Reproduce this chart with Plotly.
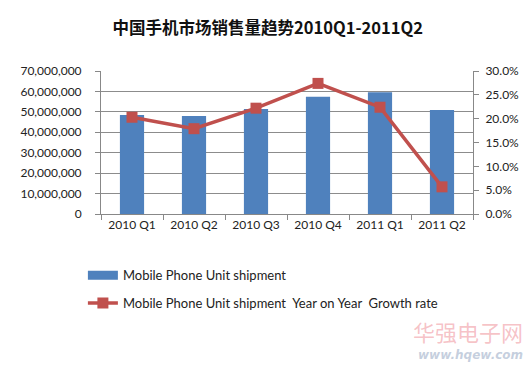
import plotly.graph_objects as go

categories = ["2010 Q1", "2010 Q2", "2010 Q3", "2010 Q4", "2011 Q1", "2011 Q2"]
shipments = [48500000, 48000000, 51400000, 57400000, 59600000, 50900000]
growth = [0.203, 0.179, 0.222, 0.274, 0.224, 0.057]
left_ticks = [0, 10000000, 20000000, 30000000, 40000000, 50000000, 60000000, 70000000]
right_ticks = [0, 0.05, 0.10, 0.15, 0.20, 0.25, 0.30]

FONT = "Lato, 'Open Sans', sans-serif"
BLUE = "#4F81BD"
RED = "#C0504D"

fig = go.Figure()
fig.add_trace(go.Bar(
    x=categories, y=shipments, name="Mobile Phone Unit shipment",
    marker=dict(color=BLUE, line=dict(width=0)),
    showlegend=False, yaxis="y"))
# legend key for the bar series (wide rectangle, as in the reference)
fig.add_trace(go.Scatter(
    x=[None], y=[None], mode="lines", name="Mobile Phone Unit shipment",
    line=dict(color=BLUE, width=9), legend="legend", yaxis="y"))
fig.add_trace(go.Scatter(
    x=categories, y=growth, mode="lines+markers",
    name="Mobile Phone Unit shipment  Year on Year  Growth rate",
    line=dict(color=RED, width=3.5),
    marker=dict(symbol="square", size=11, color=RED),
    legend="legend2", yaxis="y2"))

fig.update_layout(
    width=528, height=367,
    margin=dict(l=101, r=55, t=71, b=153, autoexpand=False),
    paper_bgcolor="white", plot_bgcolor="white",
    bargap=0.61,
    font=dict(family=FONT, size=12, color="#222"),
    title=dict(text="<b>中国手机市场销售量趋势2010Q1-2011Q2</b>",
               x=0.507, xanchor="center", y=0.922, yanchor="middle",
               font=dict(family="'Noto Sans CJK SC', sans-serif", size=16.5, color="#111")),
    xaxis=dict(showline=True, linecolor="#888", linewidth=1,
               ticks="outside", ticklen=5, tickcolor="#888",
               tickson="boundaries", showgrid=False,
               tickfont=dict(size=12, color="#222")),
    yaxis=dict(range=[0, 70000000], tickvals=left_ticks,
               ticktext=[f"{v:,}" for v in left_ticks],
               showline=True, linecolor="#888", ticks="outside", ticklen=5,
               tickcolor="#888", gridcolor="#8c8c8c", gridwidth=1,
               ticklabelstandoff=11,
               zeroline=False, tickfont=dict(size=12, color="#222")),
    yaxis2=dict(range=[0, 0.30], tickvals=right_ticks,
                ticktext=[f"{v*100:.1f}%" for v in right_ticks],
                overlaying="y", side="right", showline=True, linecolor="#888",
                ticks="outside", ticklen=5, tickcolor="#888", showgrid=False,
                ticklabelstandoff=4,
                zeroline=False, tickfont=dict(size=12, color="#222")),
    legend=dict(xref="container", yref="container", x=0.157, y=0.25,
                xanchor="left", yanchor="middle",
                font=dict(size=13, color="#222"), bgcolor="rgba(0,0,0,0)",
                itemwidth=30),
    legend2=dict(xref="container", yref="container", x=0.157, y=0.174,
                 xanchor="left", yanchor="middle",
                 font=dict(size=13, color="#222"), bgcolor="rgba(0,0,0,0)",
                 itemwidth=30),
    showlegend=True,
)

fig.add_annotation(text="华强电子网", xref="paper", yref="paper", x=1.14, y=-0.818,
                   xanchor="right", yanchor="middle", showarrow=False,
                   font=dict(family="'Noto Sans CJK SC', sans-serif", size=22, color="rgba(235,120,130,0.45)"))
fig.add_annotation(text="<b><i>www.hqew.com</i></b>", xref="paper", yref="paper", x=1.14, y=-0.986,
                   xanchor="right", yanchor="middle", showarrow=False,
                   font=dict(family="'DejaVu Sans', sans-serif", size=12, color="rgba(140,160,190,0.5)"))

fig.write_html("out.html", config={"displayModeBar": False},
               post_script="document.body.style.margin='0';document.body.style.overflow='hidden';")
